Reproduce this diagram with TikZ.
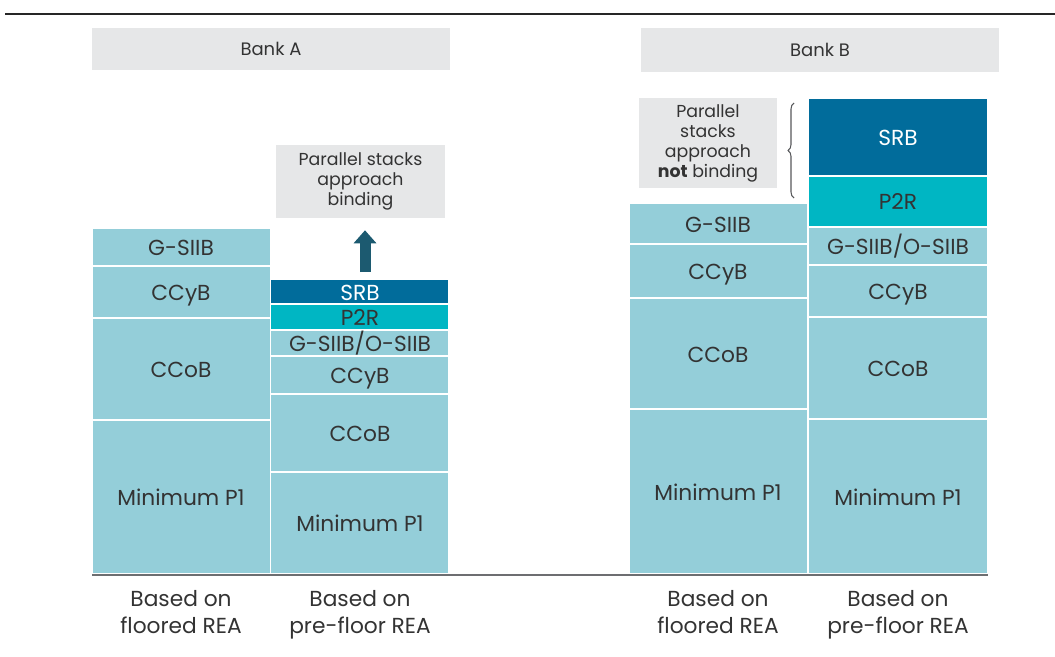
\documentclass[tikz,border=0pt]{standalone}
\usepackage{fontspec}
\setmainfont{Poppins}
\usetikzlibrary{arrows.meta,decorations.pathreplacing}

\definecolor{capteal}{HTML}{94CED9}
\definecolor{ptwor}{HTML}{00B6C3}
\definecolor{srbblue}{HTML}{016C9B}
\definecolor{boxgrey}{HTML}{E6E7E8}
\definecolor{inkgrey}{HTML}{333333}
\definecolor{axisgrey}{HTML}{6D6E71}
\definecolor{arrowteal}{HTML}{1C5A70}

\tikzset{
  block/.style={draw=white, line width=0.8pt},
  lbl/.style={text=inkgrey, font=\fontsize{16.3}{19}\selectfont, text height=0.7em, text depth=0pt, inner sep=0pt, yshift=-3pt},
  whitelbl/.style={lbl, text=white},
  hdr/.style={fill=boxgrey, text=inkgrey, font=\fontsize{13.5}{16}\selectfont, inner sep=0pt},
  note/.style={fill=boxgrey, text=inkgrey, align=center, font=\fontsize{13}{15}\selectfont, inner sep=0pt},
  basis/.style={text=inkgrey, align=center, font=\fontsize{16.3}{20}\selectfont, inner sep=0pt, anchor=base},
  bigarrow/.style={arrowteal, line width=8.25pt, -{Triangle[width=16.5pt,length=9.75pt]}},
}

\begin{document}
\begin{tikzpicture}[x=0.75pt,y=-0.75pt]
		\useasboundingbox (0,0) rectangle (1055,656);

		% rule at the top
		\draw [line width=2pt, color=black!85] (5,14) -- (1055,14);

		% headers
		\node [hdr, minimum width=268.5pt, minimum height=31.5pt] (bankA) at (271,49) {Bank A};
		\node [hdr, minimum width=268.5pt, minimum height=33pt] (bankB) at (820,50) {Bank B};

		% Bank A, floored REA
		\draw [block, fill=capteal] (92,420) rectangle (270.5,574);
		\draw [block, fill=capteal] (92,318) rectangle (270.5,420);
		\draw [block, fill=capteal] (92,266) rectangle (270.5,318);
		\draw [block, fill=capteal] (92,228) rectangle (270.5,266);
		\node [lbl] (aFlMin) at (181,497) {Minimum P1};
		\node [lbl] (aFlCcob) at (181,369) {CCoB};
		\node [lbl] (aFlCcyb) at (181,292) {CCyB};
		\node [lbl] (aFlGsiib) at (181,247) {G-SIIB};

		% Bank A, pre-floor REA
		\draw [block, fill=capteal] (270.5,472) rectangle (449,574);
		\draw [block, fill=capteal] (270.5,394) rectangle (449,472);
		\draw [block, fill=capteal] (270.5,356) rectangle (449,394);
		\draw [block, fill=capteal] (270.5,330) rectangle (449,356);
		\draw [block, fill=ptwor] (270.5,304) rectangle (449,330);
		\draw [block, fill=srbblue] (270.5,279) rectangle (449,304);
		\node [lbl] (aPfMin) at (360,523) {Minimum P1};
		\node [lbl] (aPfCcob) at (360,433) {CCoB};
		\node [lbl] (aPfCcyb) at (360,375) {CCyB};
		\node [lbl] (aPfSiib) at (360,343) {G-SIIB/O-SIIB};
		\node [lbl] (aPfP2r) at (360,317) {P2R};
		\node [whitelbl] (aPfSrb) at (360,292) {SRB};
		\coordinate (aPfTop) at (365,279);

		\node [note, minimum width=126.75pt, minimum height=54.75pt] (parA) at (360.5,181.5) {Parallel stacks\\approach\\binding};
		\draw [bigarrow, shorten <=5.25pt, shorten >=9pt] (aPfTop) -- (parA.south -| aPfTop);

		% Bank B, floored REA
		\draw [block, fill=capteal] (629,409) rectangle (808,574);
		\draw [block, fill=capteal] (629,298) rectangle (808,409);
		\draw [block, fill=capteal] (629,244) rectangle (808,298);
		\draw [block, fill=capteal] (629,203) rectangle (808,244);
		\node [lbl] (bFlMin) at (718,492) {Minimum P1};
		\node [lbl] (bFlCcob) at (718,354) {CCoB};
		\node [lbl] (bFlCcyb) at (718,271) {CCyB};
		\node [lbl] (bFlGsiib) at (718,224) {G-SIIB};

		% Bank B, pre-floor REA
		\draw [block, fill=capteal] (808,419) rectangle (988,574);
		\draw [block, fill=capteal] (808,317) rectangle (988,419);
		\draw [block, fill=capteal] (808,265) rectangle (988,317);
		\draw [block, fill=capteal] (808,227) rectangle (988,265);
		\draw [block, fill=ptwor] (808,176) rectangle (988,227);
		\draw [block, fill=srbblue] (808,98) rectangle (988,176);
		\node [lbl] (bPfMin) at (898,497) {Minimum P1};
		\node [lbl] (bPfCcob) at (898,368) {CCoB};
		\node [lbl] (bPfCcyb) at (898,291) {CCyB};
		\node [lbl] (bPfSiib) at (898,246) {G-SIIB/O-SIIB};
		\node [lbl] (bPfP2r) at (898,201) {P2R};
		\node [whitelbl] (bPfSrb) at (898,137) {SRB};

		\node [note, minimum width=103.5pt, minimum height=67.5pt] (parB) at (708,143) {Parallel\\stacks\\approach\\\textbf{not} binding};
		\coordinate (braceLow) at (794,198);
		\coordinate (braceHigh) at (794,103);
		\draw [axisgrey!80!black, line width=0.8pt, decorate, decoration={brace, amplitude=4.5pt}] (braceLow) -- (braceHigh);

		% axis
		\draw [line width=1.5pt, color=axisgrey] (92,575) -- (988,575);

		% column captions
		\node [basis] (capA1) at (181,633) {Based on\\floored REA};
		\node [basis] (capA2) at (360,633) {Based on\\pre-floor REA};
		\node [basis] (capB1) at (718,633) {Based on\\floored REA};
		\node [basis] (capB2) at (898,633) {Based on\\pre-floor REA};
\end{tikzpicture}
\end{document}
